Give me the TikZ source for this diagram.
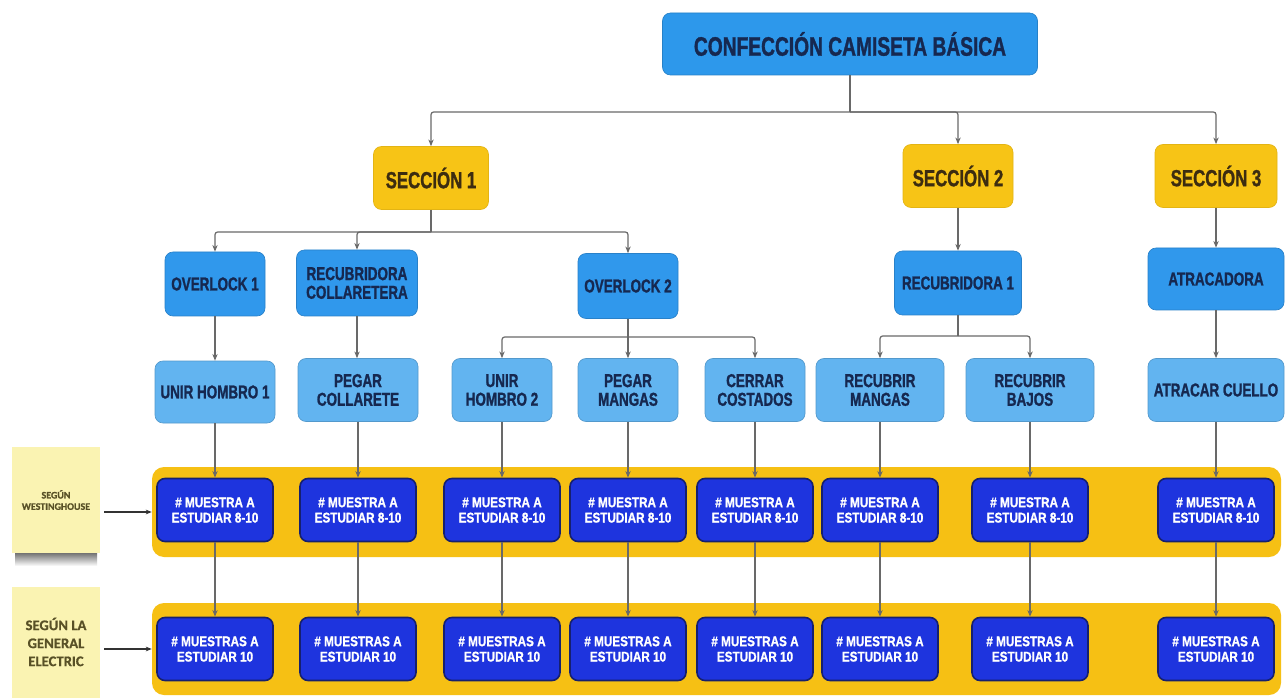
\documentclass[tikz,border=0pt]{standalone}
\usepackage{fontspec}
\setmainfont{Liberation Sans Bold}[FakeStretch=0.72,FakeBold=1.2]
\newfontfamily\wfont{Liberation Sans Bold}[FakeStretch=0.83,FakeBold=1]
\newfontfamily\notefont{Carlito Bold}[FakeBold=0.8]
\usetikzlibrary{arrows.meta}
\definecolor{topblue}{RGB}{45,152,235}
\definecolor{midblue}{RGB}{48,152,236}
\definecolor{lightblue}{RGB}{98,180,240}
\definecolor{secyellow}{RGB}{247,196,22}
\definecolor{bandyellow}{RGB}{246,192,20}
\definecolor{darkblue}{RGB}{30,52,222}
\definecolor{darkborder}{RGB}{22,32,110}
\definecolor{navytext}{RGB}{22,40,80}
\definecolor{sectext}{RGB}{60,44,16}
\definecolor{conngray}{RGB}{105,105,105}
\definecolor{noteyellow}{RGB}{250,243,178}
\definecolor{notetext}{RGB}{88,80,38}
\tikzset{
  base/.style={rectangle, rounded corners=6pt, inner sep=0pt, align=center},
  sz/.style 2 args={minimum width=#1*0.75pt, minimum height=#2*0.75pt},
  topbox/.style={base, fill=topblue, draw=topblue!85!black, line width=0.5pt, text=navytext,
    font=\fontsize{20}{22}\selectfont},
  secbox/.style={base, fill=secyellow, draw=secyellow!92!black, line width=0.5pt, text=sectext,
    font=\fontsize{17.5}{19}\selectfont},
  machbox/.style={base, fill=midblue, draw=midblue!85!black, line width=0.5pt, text=navytext,
    font=\fontsize{14}{14}\selectfont},
  opbox/.style={base, fill=lightblue, draw=lightblue!85!black, line width=0.5pt, text=navytext,
    font=\fontsize{14}{14}\selectfont},
  sampbox/.style={base, fill=darkblue, draw=darkborder, line width=1.2pt, text=white,
    font=\wfont\fontsize{10.6}{11.5}\selectfont, sz={116}{63}},
  band/.style={rectangle, fill=bandyellow, rounded corners=9pt, inner sep=0pt},
  note/.style={rectangle, fill=noteyellow, inner sep=0pt, align=center, text=notetext},
  conn/.style={draw=conngray, line width=0.9pt, rounded corners=2pt},
  arr/.style={conn, -{Stealth[length=5pt,width=4pt]}},
  blackarr/.style={draw=black!80, line width=0.8pt, -{Stealth[length=4.5pt,width=3.5pt]}},
}
\begin{document}
\begin{tikzpicture}[x=0.75pt,y=-0.75pt]
\useasboundingbox (0,0) rectangle (1287,698);
\fill[white] (0,0) rectangle (1287,698);

% bands
\node[band, sz={1129}{90}] (band1) at (716.5,512) {};
\node[band, sz={1129}{92}] (band2) at (716.5,649) {};

% sticky notes
\shade[top color=black!55, bottom color=white] (15,553) rectangle (97,566);
\node[note, sz={88}{106}, font=\notefont\fontsize{7.5}{8.5}\selectfont] (n1) at (56,500) {SEGÚN\\WESTINGHOUSE};
\node[note, sz={88}{111}, font=\notefont\fontsize{11}{13.5}\selectfont] (n2) at (56,642) {SEGÚN LA\\GENERAL\\ELECTRIC};

% top
\node[topbox, sz={375}{62}] (top) at (850,44) {CONFECCIÓN CAMISETA BÁSICA};

% sections
\node[secbox, sz={115}{63}] (s1) at (431,178) {SECCIÓN 1};
\node[secbox, sz={110}{63}] (s2) at (958,176) {SECCIÓN 2};
\node[secbox, sz={122}{63}] (s3) at (1216,176) {SECCIÓN 3};

% machines
\node[machbox, sz={100}{64}] (ov1) at (215,284) {OVERLOCK 1};
\node[machbox, sz={121}{66}] (rc) at (357,283) {RECUBRIDORA\\COLLARETERA};
\node[machbox, sz={100}{65}] (ov2) at (628,286) {OVERLOCK 2};
\node[machbox, sz={127}{64}] (r1) at (958,283) {RECUBRIDORA 1};
\node[machbox, sz={136}{62}] (at) at (1216,279) {ATRACADORA};

% operations
\node[opbox, sz={120}{62}] (u1) at (215,392) {UNIR HOMBRO 1};
\node[opbox, sz={120}{63}] (pc) at (358,390) {PEGAR\\COLLARETE};
\node[opbox, sz={100}{63}] (u2) at (502,390) {UNIR\\HOMBRO 2};
\node[opbox, sz={100}{63}] (pm) at (628,390) {PEGAR\\MANGAS};
\node[opbox, sz={100}{63}] (cc) at (755,390) {CERRAR\\COSTADOS};
\node[opbox, sz={128}{63}] (rm) at (880,390) {RECUBRIR\\MANGAS};
\node[opbox, sz={128}{63}] (rb) at (1030,390) {RECUBRIR\\BAJOS};
\node[opbox, sz={136}{63}] (ac) at (1216,390) {ATRACAR CUELLO};

% sample rows
\foreach \n/\x in {1/215,2/358,3/502,4/628,5/755,6/880,7/1030,8/1216}{
  \node[sampbox] (w\n) at (\x,510) {\# MUESTRA A\\ESTUDIAR 8-10};
  \node[sampbox] (g\n) at (\x,649) {\# MUESTRAS A\\ESTUDIAR 10};
}

% tree connectors
\coordinate (b0) at (850,112);
\coordinate (b1) at (431,232);
\coordinate (b2) at (628,337);
\coordinate (b3) at (958,336);
\draw[conn] (top.south) -- (b0);
\draw[arr] (b0) -| (s1.north);
\draw[arr] (b0) -| (s2.north);
\draw[arr] (b0) -| (s3.north);
\draw[conn] (s1.south) -- (b1);
\draw[arr] (b1) -| (ov1.north);
\draw[arr] (b1) -| (rc.north);
\draw[arr] (b1) -| (ov2.north);
\draw[arr] (s2.south) -- (r1.north);
\draw[arr] (s3.south) -- (at.north);
\draw[arr] (ov1.south) -- (u1.north);
\draw[arr] (rc.south) -- (rc.south |- pc.north);
\draw[conn] (ov2.south) -- (b2);
\draw[arr] (b2) -| (u2.north);
\draw[arr] (b2) -- (pm.north);
\draw[arr] (b2) -| (cc.north);
\draw[conn] (r1.south) -- (b3);
\draw[arr] (b3) -| (rm.north);
\draw[arr] (b3) -| (rb.north);
\draw[arr] (at.south) -- (ac.north);

% to sample rows
\foreach \o/\n in {u1/1,pc/2,u2/3,pm/4,cc/5,rm/6,rb/7,ac/8}{
  \draw[arr] (\o.south) -- (w\n.north);
  \draw[arr] (w\n.south) -- (g\n.north);
}

% note arrows
\draw[blackarr, shorten <=3pt] (n1.east |- band1.west) -- (band1.west);
\draw[blackarr, shorten <=3pt] (n2.east |- band2.west) -- (band2.west);
\end{tikzpicture}
\end{document}
